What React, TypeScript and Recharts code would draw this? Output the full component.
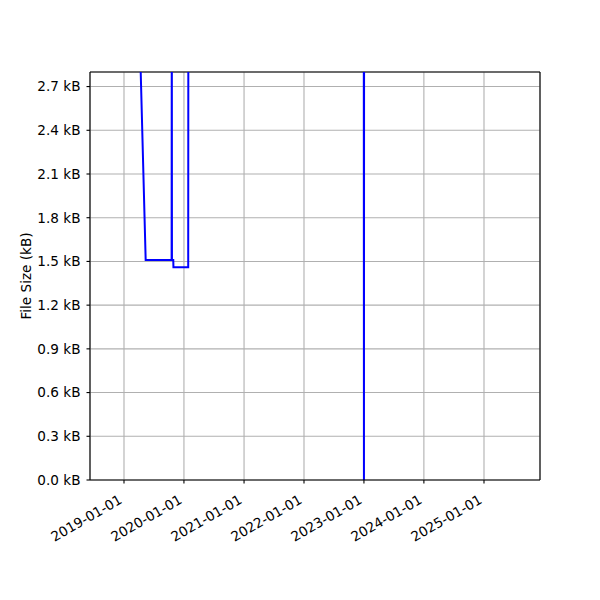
import React from 'react';
import {
  LineChart,
  Line,
  XAxis,
  YAxis,
  CartesianGrid,
  ReferenceLine,
} from 'recharts';

// commit dates and file size (kB); points above 2.8 kB are clipped
const dates = [
  '2018-10-11',
  '2019-03-25',
  '2019-05-13',
  '2019-10-18',
  '2019-10-19',
  '2019-10-20',
  '2019-10-28',
  '2019-10-29',
  '2020-01-27',
  '2020-01-28',
  '2022-12-31',
  '2023-01-01',
  '2023-01-02',
  '2025-08-05',
];
const sizes = [3.6, 3.6, 1.51, 1.51, 3.6, 1.51, 1.51, 1.46, 1.46, 3.6, 3.6, 0, 3.6, 3.6];

const yearTicks = ['2019-01-01', '2020-01-01', '2021-01-01', '2022-01-01', '2023-01-01', '2024-01-01', '2025-01-01'];
const sizeTicks = [0, 0.3, 0.6, 0.9, 1.2, 1.5, 1.8, 2.1, 2.4, 2.7];

const data = dates.map((d, i) => ({ t: Date.parse(d), size: sizes[i] }));
const xTicks = yearTicks.map((d) => Date.parse(d));
const xDomain = [Date.parse('2018-06-08'), Date.parse('2025-12-08')];

const font = '"DejaVu Sans", sans-serif';
const fontSize = 13.6;

function fmtDate(v: number) {
  return new Date(v).toISOString().slice(0, 10);
}

function DateTick(props: any) {
  const { x, y, payload } = props;
  return (
    <g transform={`translate(${x - 1},${y + 17})`}>
      <text
        textAnchor="end"
        transform="rotate(-30)"
        fontFamily={font}
        fontSize={fontSize}
        fill="#000"
      >
        {fmtDate(payload.value)}
      </text>
    </g>
  );
}

export default function App() {
  return (
    <div style={{ position: 'absolute', left: 0, top: 0, width: 600, height: 600, background: '#fff' }}>
      <LineChart
        width={600}
        height={600}
        data={data}
        margin={{ top: 72, right: 60, bottom: 0, left: 0 }}
      >
        <CartesianGrid stroke="#b0b0b0" strokeWidth={1.1} />
        <XAxis
          dataKey="t"
          type="number"
          scale="time"
          domain={xDomain}
          ticks={xTicks}
          interval={0}
          allowDataOverflow
          height={120}
          tick={<DateTick />}
          tickSize={3.5}
          tickLine={{ stroke: '#000', strokeWidth: 1.1 }}
          axisLine={{ stroke: '#000', strokeWidth: 1.1 }}
        />
        <YAxis
          type="number"
          domain={[0, 2.8]}
          ticks={sizeTicks}
          interval={0}
          allowDataOverflow
          width={90}
          tickSize={3.5}
          tickMargin={6}
          tickFormatter={(v) => `${Number(v).toFixed(1)} kB`}
          tick={{ fill: '#000', fontFamily: font, fontSize }}
          tickLine={{ stroke: '#000', strokeWidth: 1.1 }}
          axisLine={{ stroke: '#000', strokeWidth: 1.1 }}
          label={{
            value: 'File Size (kB)',
            angle: -90,
            position: 'insideLeft',
            offset: 26,
            style: { fill: '#000', fontFamily: font, fontSize, textAnchor: 'middle' },
          }}
        />
        <ReferenceLine y={2.8} stroke="#000" strokeWidth={1.1} />
        <ReferenceLine x={xDomain[1]} stroke="#000" strokeWidth={1.1} />
        <Line
          dataKey="size"
          stroke="#0000ff"
          strokeWidth={2}
          dot={false}
          activeDot={false}
          isAnimationActive={false}
        />
      </LineChart>
    </div>
  );
}
